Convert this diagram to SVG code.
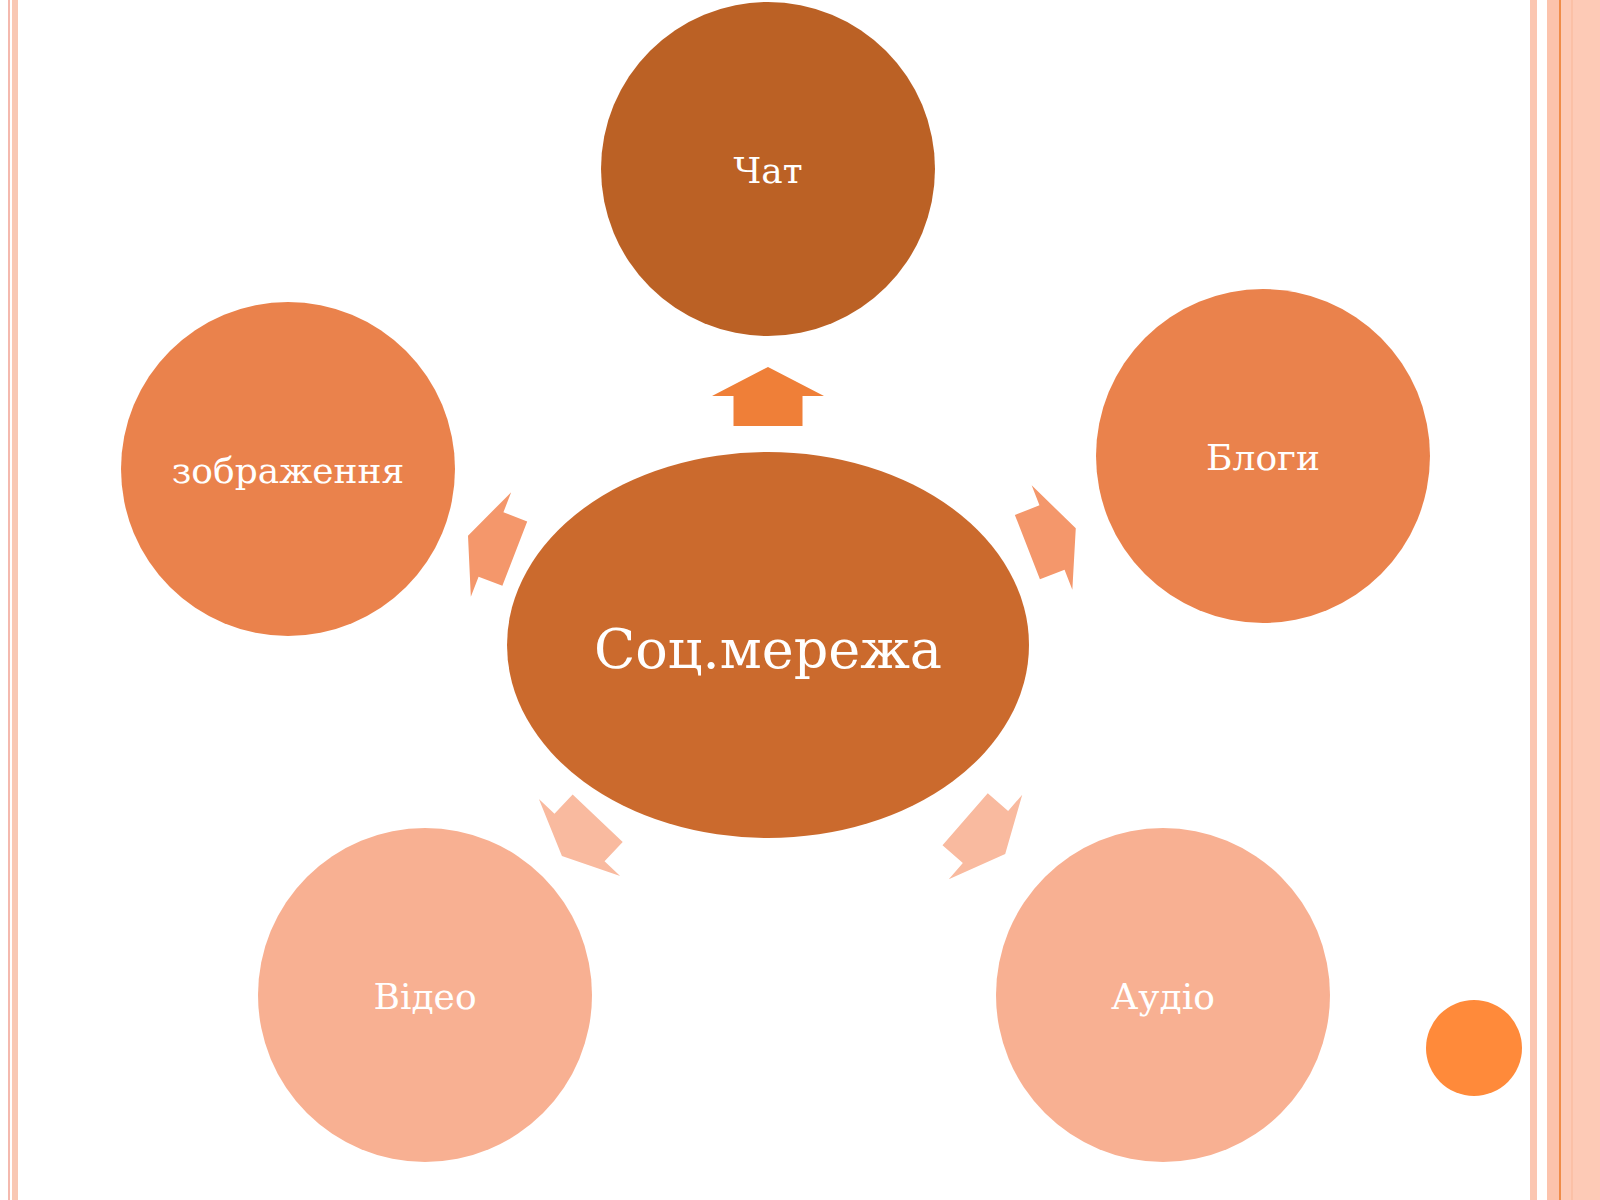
<svg xmlns="http://www.w3.org/2000/svg" width="1600" height="1200" viewBox="0 0 1600 1200">
<defs>
<style>
.lbl{font-family:"DejaVu Serif","Liberation Serif",serif;fill:#ffffff;text-anchor:middle;font-size:36px}
.main{font-size:54px}
</style>
<polygon id="arr" points="0,-29 56,0 34.5,0 34.5,30 -34.5,30 -34.5,0 -56,0"/>
</defs>
<rect width="1600" height="1200" fill="#ffffff"/>
<g id="border">
<rect x="8" y="0" width="2" height="1200" fill="#F4B9AE"/>
<rect x="12" y="0" width="6" height="1200" fill="#F9C8B4"/>
<rect x="1530" y="0" width="7" height="1200" fill="#FBC6B1"/>
<rect x="1547" y="0" width="53" height="1200" fill="#FDCAB6"/>
<rect x="1547" y="0" width="12" height="1200" fill="#FCC3AC"/>
<rect x="1559" y="0" width="2" height="1200" fill="#F08C48"/>
<rect x="1571" y="0" width="2" height="1200" fill="#FBC0A6"/>
</g>
<g id="connectors">
<use href="#arr" transform="translate(768,396)" fill="#EF7F38"/>
<use href="#arr" transform="translate(491,544.5) rotate(-68.9) scale(1,0.85)" fill="#F4976B"/>
<use href="#arr" transform="translate(1052,537.5) rotate(68.7) scale(1,0.88)" fill="#F4976B"/>
<use href="#arr" transform="translate(579.5,837.5) rotate(-136.5) scale(1,0.88)" fill="#F9BA9F"/>
<use href="#arr" transform="translate(985.5,837) rotate(131) scale(1,0.9)" fill="#F9BA9F"/>
</g>
<g id="center">
<ellipse cx="768" cy="645" rx="261" ry="193" fill="#CB6A2D"/>
<text class="lbl main" x="768" y="668">Соц.мережа</text>
</g>
<g id="chat">
<circle cx="768" cy="169" r="167" fill="#BB6125"/>
<text class="lbl" x="768" y="183">Чат</text>
</g>
<g id="images">
<circle cx="288" cy="469" r="167" fill="#EA824C"/>
<text class="lbl" x="288" y="483">зображення</text>
</g>
<g id="blogs">
<circle cx="1263" cy="456" r="167" fill="#EA824C"/>
<text class="lbl" x="1263" y="470">Блоги</text>
</g>
<g id="video">
<circle cx="425" cy="995" r="167" fill="#F8B092"/>
<text class="lbl" x="425" y="1009">Відео</text>
</g>
<g id="audio">
<circle cx="1163" cy="995" r="167" fill="#F8B092"/>
<text class="lbl" x="1163" y="1009">Аудіо</text>
</g>
<circle id="dot" cx="1474" cy="1048" r="48" fill="#FF8A3A"/>
</svg>
